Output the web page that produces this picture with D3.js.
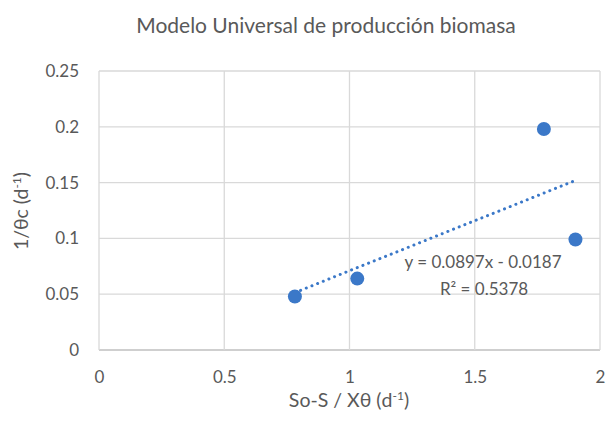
<!DOCTYPE html>
<html>
<head>
<meta charset="utf-8">
<script src="https://cdn.jsdelivr.net/npm/d3@7"></script>
<style>
  body { margin: 0; background: #fff; }
  text { font-family: Lato, "Open Sans", sans-serif; fill: #595959; }
</style>
</head>
<body>
<div id="chart"></div>
<script>
const xValues = [0.782, 1.031, 1.776, 1.902];
const yValues = [0.048, 0.064, 0.198, 0.099];
const xTicks = [0, 0.5, 1, 1.5, 2];
const yTicks = [0, 0.05, 0.1, 0.15, 0.2, 0.25];
const slope = 0.0897;
const intercept = -0.0187;
const eqLabel = "y = 0.0897x - 0.0187";
const r2Label = "R² = 0.5378";

const w = 607;
const h = 422;
const padL = 99, padR = 600, padT = 71, padB = 350;

const svg = d3.select("#chart")
    .append("svg")
    .attr("width", w)
    .attr("height", h);

const xScale = d3.scaleLinear().domain([0, 2]).range([padL, padR]);
const yScale = d3.scaleLinear().domain([0, 0.25]).range([padB, padT]);

// grid
svg.append("g")
    .selectAll("line")
    .data(yTicks)
    .enter()
    .append("line")
    .attr("x1", padL)
    .attr("x2", padR)
    .attr("y1", d => yScale(d))
    .attr("y2", d => yScale(d))
    .attr("stroke", d => d === 0 ? "#bfbfbf" : "#d9d9d9")
    .attr("stroke-width", 1.3);

svg.append("g")
    .selectAll("line")
    .data(xTicks)
    .enter()
    .append("line")
    .attr("x1", d => xScale(d))
    .attr("x2", d => xScale(d))
    .attr("y1", padT)
    .attr("y2", padB)
    .attr("stroke", "#d9d9d9")
    .attr("stroke-width", 1.3);

// tick labels
const xAxis = d3.axisBottom(xScale).tickValues(xTicks).tickSize(0).tickPadding(21).tickFormat(d3.format(""));
const yAxis = d3.axisLeft(yScale).tickValues(yTicks).tickSize(0).tickPadding(20).tickFormat(d3.format(""));

const gx = svg.append("g")
    .attr("transform", `translate(0,${padB})`)
    .call(xAxis);
const gy = svg.append("g")
    .attr("transform", `translate(${padL},0)`)
    .call(yAxis);
[gx, gy].forEach(g => {
    g.select(".domain").remove();
    g.selectAll("text")
        .style("font-family", "Lato, 'Open Sans', sans-serif")
        .style("font-size", "17px")
        .attr("fill", "#595959");
});

// trendline
const xMin = d3.min(xValues), xMax = d3.max(xValues);
svg.append("line")
    .attr("x1", xScale(xMin))
    .attr("y1", yScale(slope * xMin + intercept))
    .attr("x2", xScale(xMax))
    .attr("y2", yScale(slope * xMax + intercept))
    .attr("stroke", "#3b78c8")
    .attr("stroke-width", 3)
    .attr("stroke-linecap", "round")
    .attr("stroke-dasharray", "0.1 6");

// points
svg.append("g")
    .selectAll("circle")
    .data(xValues)
    .enter()
    .append("circle")
    .attr("cx", d => xScale(d))
    .attr("cy", (d, i) => yScale(yValues[i]))
    .attr("r", 7)
    .attr("fill", "#3b78c8");

// equation
svg.append("text")
    .attr("x", 483)
    .attr("y", 268)
    .attr("text-anchor", "middle")
    .style("font-size", "17px")
    .text(eqLabel);
svg.append("text")
    .attr("x", 484)
    .attr("y", 295)
    .attr("text-anchor", "middle")
    .style("font-size", "17px")
    .text(r2Label);

// title
svg.append("text")
    .attr("x", 326)
    .attr("y", 33)
    .attr("text-anchor", "middle")
    .style("font-size", "21px")
    .text("Modelo Universal de producción biomasa");

// x axis title
const xt = svg.append("text")
    .attr("x", 349)
    .attr("y", 407)
    .attr("text-anchor", "middle")
    .style("font-size", "19.5px");
xt.append("tspan").text("So-S / Xθ (d");
xt.append("tspan").attr("dy", -7).style("font-size", "12px").text("-1");
xt.append("tspan").attr("dy", 7).text(")");

// y axis title
const yt = svg.append("text")
    .attr("transform", "translate(28,211) rotate(-90)")
    .attr("text-anchor", "middle")
    .style("font-size", "19.5px");
yt.append("tspan").text("1/θc (d");
yt.append("tspan").attr("dy", -7).style("font-size", "12px").text("-1");
yt.append("tspan").attr("dy", 7).text(")");
</script>
</body>
</html>
